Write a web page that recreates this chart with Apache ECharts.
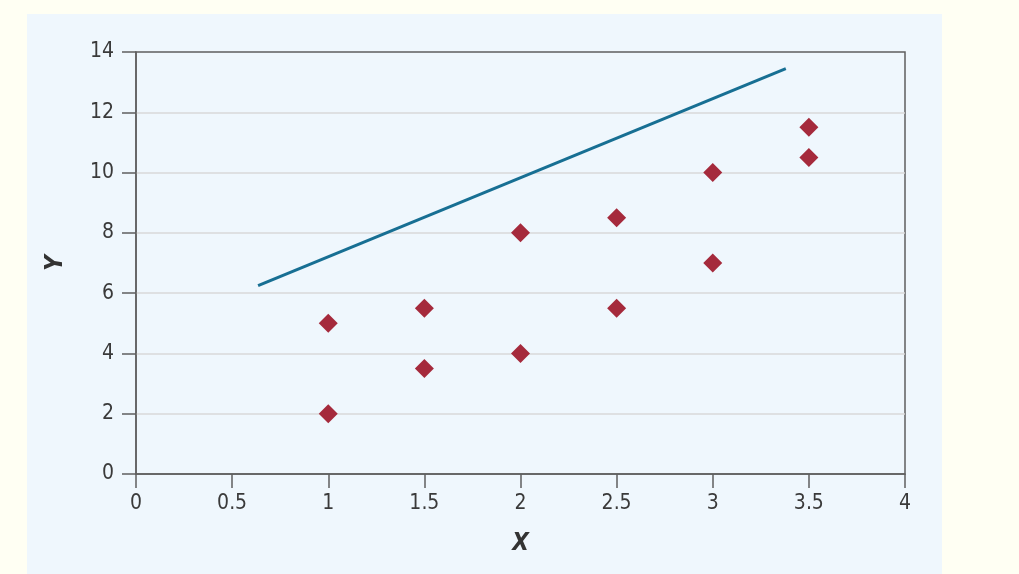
<!DOCTYPE html>
<html><head><meta charset="utf-8">
<script src="https://cdn.jsdelivr.net/npm/echarts@6/dist/echarts.min.js"></script>
<style>html,body{margin:0;padding:0;background:#fffff3;}#c{width:1019px;height:574px;}</style>
</head><body><div id="c"></div>
<script>
const pointX = [1, 1, 1.5, 1.5, 2, 2, 2.5, 2.5, 3, 3, 3.5, 3.5];
const pointY = [5, 2, 5.5, 3.5, 8, 4, 8.5, 5.5, 10, 7, 11.5, 10.5];
const lineX = [0.635, 3.38];
const lineY = [6.25, 13.45];
const xTicks = [0, 0.5, 1, 1.5, 2, 2.5, 3, 3.5, 4];
const yTicks = [0, 2, 4, 6, 8, 10, 12, 14];

const font = "'DejaVu Sans Condensed', 'Liberation Sans Narrow', 'Roboto', sans-serif";
const chart = echarts.init(document.getElementById('c'));
chart.setOption({
  backgroundColor: '#fffff3',
  animation: false,
  graphic: [{type:'rect', z:-10, shape:{x:27,y:14,width:915,height:560}, style:{fill:'#eff7fd'}}],
  grid: {left:136, right:114, top:52, bottom:100, show:true, borderColor:'#5f5f5f', borderWidth:1.5, backgroundColor:'transparent'},
  xAxis: {
    type:'value', min:0, max:4, interval:0.5,
    name:'X', nameLocation:'middle', nameGap:58,
    nameTextStyle:{fontFamily:font, fontSize:24, fontWeight:'bold', fontStyle:'italic', color:'#333'},
    axisLine:{show:true, lineStyle:{color:'#5f5f5f', width:1.5}},
    axisTick:{show:true, inside:false, length:14, lineStyle:{color:'#5f5f5f', width:1.5}},
    axisLabel:{fontFamily:font, fontSize:21, color:'#3a3a3a', margin:19, formatter: v => String(v)},
    splitLine:{show:false}
  },
  yAxis: {
    type:'value', min:0, max:14, interval:2,
    name:'Y', nameLocation:'middle', nameGap:68, nameRotate:90,
    nameTextStyle:{fontFamily:font, fontSize:24, fontWeight:'bold', fontStyle:'italic', color:'#333'},
    axisLine:{show:true, lineStyle:{color:'#5f5f5f', width:1.5}},
    axisTick:{show:true, length:14, lineStyle:{color:'#5f5f5f', width:1.5}},
    axisLabel:{fontFamily:font, fontSize:21, color:'#3a3a3a', margin:22},
    splitLine:{show:true, showMaxLine:false, showMinLine:false, lineStyle:{color:'#d9d9d9', width:1.5}}
  },
  series: [
    {type:'line', data: lineX.map((x,i)=>[x,lineY[i]]), symbol:'none', lineStyle:{color:'#176f93', width:3}, z:3},
    {type:'scatter', data: pointX.map((x,i)=>[x,pointY[i]]), symbol:'diamond', symbolSize:[19,19], itemStyle:{color:'#a52a3c', opacity:1}, z:4}
  ]
});
</script></body></html>
